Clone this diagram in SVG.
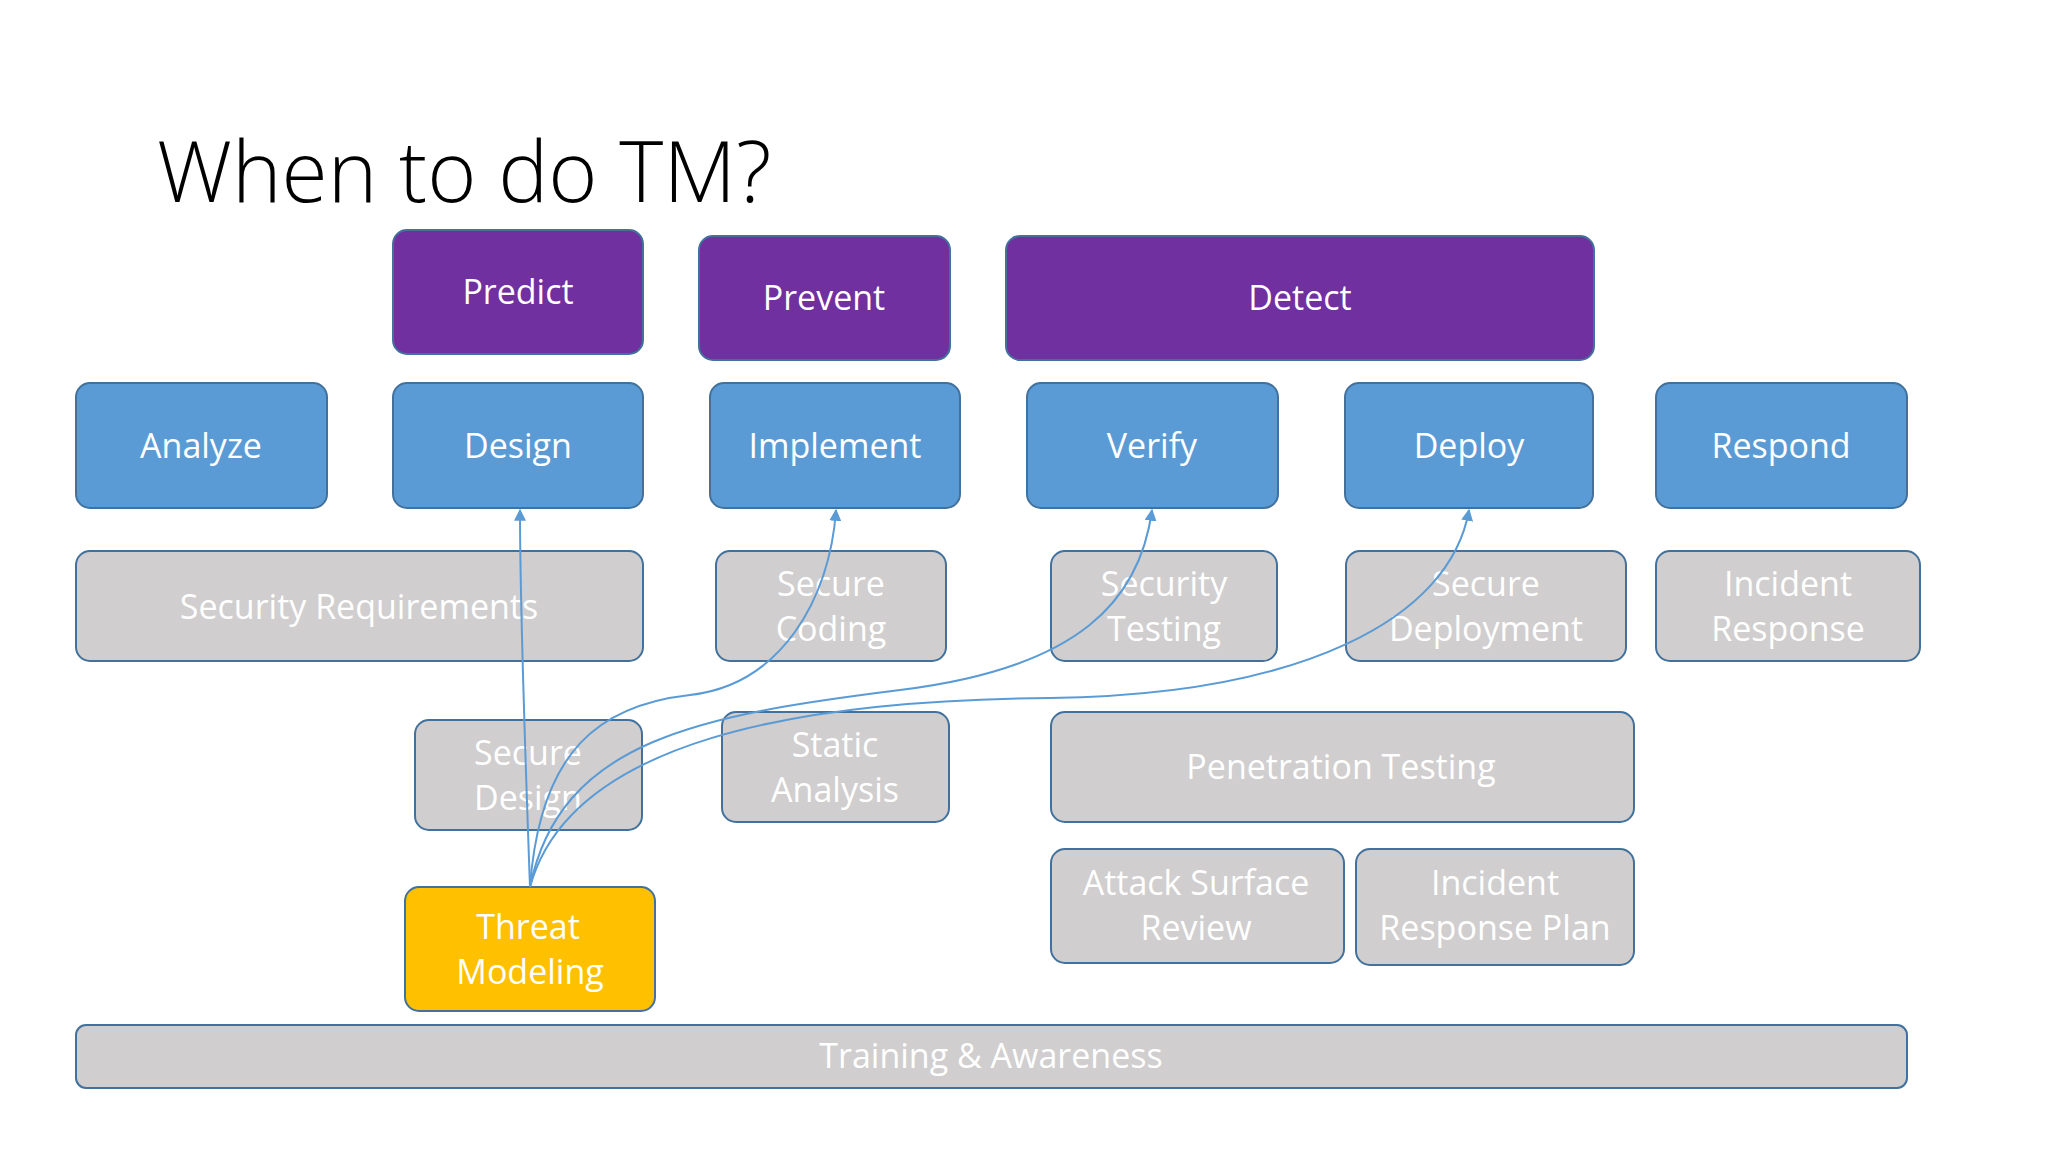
<svg xmlns="http://www.w3.org/2000/svg" width="2048" height="1152" viewBox="0 0 2048 1152">
<defs>
<style>
.p{fill:#7030A0;stroke:#41719C;stroke-width:2}
.b{fill:#5B9BD5;stroke:#41719C;stroke-width:2}
.g{fill:#D0CECE;stroke:#41719C;stroke-width:2}
.y{fill:#FFC000;stroke:#41719C;stroke-width:2}
text{font-family:"Open Sans","Liberation Sans",sans-serif;font-size:34px;fill:#fff;text-anchor:middle}
.c{fill:none;stroke:#5B9BD5;stroke-width:2;marker-end:url(#a)}
</style>
<marker id="a" viewBox="0 0 10 10" refX="9" refY="5" markerWidth="6" markerHeight="6" orient="auto"><path d="M0,0L10,5L0,10z" fill="#5B9BD5"/></marker>
</defs>
<rect width="2048" height="1152" fill="#fff"/>
<text x="157" y="202" style="font-size:84px;fill:#000;text-anchor:start;font-weight:300">When to do TM?</text>
<g id="predict"><rect class="p" x="393" y="230" width="250" height="124" rx="14"/><text x="518" y="304">Predict</text></g>
<g id="prevent"><rect class="p" x="699" y="236" width="251" height="124" rx="14"/><text x="824" y="310">Prevent</text></g>
<g id="detect"><rect class="p" x="1006" y="236" width="588" height="124" rx="14"/><text x="1300" y="310">Detect</text></g>
<g id="analyze"><rect class="b" x="76" y="383" width="251" height="125" rx="14"/><text x="201" y="458">Analyze</text></g>
<g id="design"><rect class="b" x="393" y="383" width="250" height="125" rx="14"/><text x="518" y="458">Design</text></g>
<g id="implement"><rect class="b" x="710" y="383" width="250" height="125" rx="14"/><text x="835" y="458">Implement</text></g>
<g id="verify"><rect class="b" x="1027" y="383" width="251" height="125" rx="14"/><text x="1152" y="458">Verify</text></g>
<g id="deploy"><rect class="b" x="1345" y="383" width="248" height="125" rx="14"/><text x="1469" y="458">Deploy</text></g>
<g id="respond"><rect class="b" x="1656" y="383" width="251" height="125" rx="14"/><text x="1781" y="458">Respond</text></g>
<g id="secreq"><rect class="g" x="76" y="551" width="567" height="110" rx="14"/><text x="359" y="619">Security Requirements</text></g>
<g id="seccoding"><rect class="g" x="716" y="551" width="230" height="110" rx="14"/><text x="831" y="596">Secure</text><text x="831" y="641">Coding</text></g>
<g id="sectesting"><rect class="g" x="1051" y="551" width="226" height="110" rx="14"/><text x="1164" y="596">Security</text><text x="1164" y="641">Testing</text></g>
<g id="secdeploy"><rect class="g" x="1346" y="551" width="280" height="110" rx="14"/><text x="1486" y="596">Secure</text><text x="1486" y="641">Deployment</text></g>
<g id="incresp"><rect class="g" x="1656" y="551" width="264" height="110" rx="14"/><text x="1788" y="596">Incident</text><text x="1788" y="641">Response</text></g>
<g id="secdesign"><rect class="g" x="415" y="720" width="227" height="110" rx="14"/><text x="528" y="765">Secure</text><text x="528" y="810">Design</text></g>
<g id="static"><rect class="g" x="722" y="712" width="227" height="110" rx="14"/><text x="835" y="757">Static</text><text x="835" y="802">Analysis</text></g>
<g id="pentest"><rect class="g" x="1051" y="712" width="583" height="110" rx="14"/><text x="1341" y="779">Penetration Testing</text></g>
<g id="attack"><rect class="g" x="1051" y="849" width="293" height="114" rx="14"/><text x="1196" y="895">Attack Surface</text><text x="1196" y="940">Review</text></g>
<g id="irplan"><rect class="g" x="1356" y="849" width="278" height="116" rx="14"/><text x="1495" y="895">Incident</text><text x="1495" y="940">Response Plan</text></g>
<g id="tm"><rect class="y" x="405" y="887" width="250" height="124" rx="14"/><text x="528" y="939">Threat</text><text x="530" y="984">Modeling</text></g>
<g id="training"><rect class="g" x="76" y="1025" width="1831" height="63" rx="10"/><text x="991" y="1068">Training &amp; Awareness</text></g>
<g id="connectors">
<path class="c" d="M530,887 C525,750 520,600 520,510"/>
<path class="c" d="M530,887 C540,750 600,705 690,695 C780,685 830,600 836,510"/>
<path class="c" d="M530,887 C560,740 700,715 900,690 C1080,668 1140,600 1152,510"/>
<path class="c" d="M530,887 C570,740 800,700 1050,698 C1300,695 1450,620 1469,510"/>
</g>
</svg>
